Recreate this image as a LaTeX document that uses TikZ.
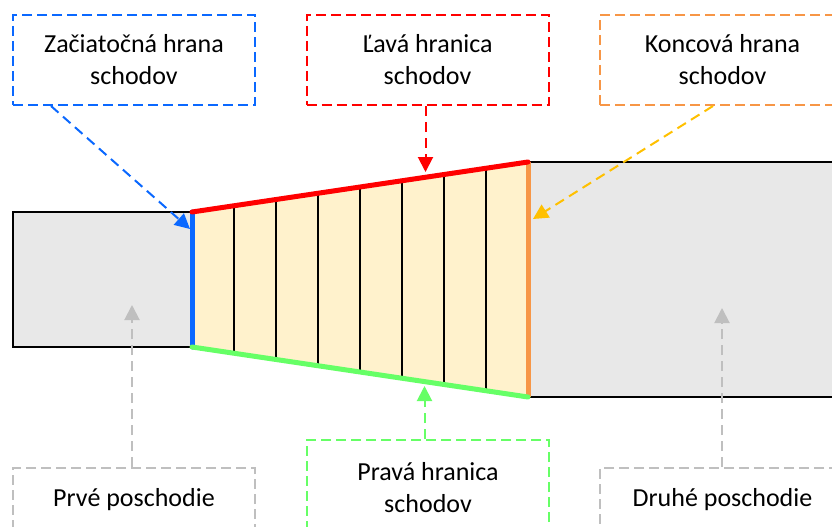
\documentclass[tikz,border=0pt]{standalone}
\usepackage{fontspec}
\setmainfont{Carlito}
\usetikzlibrary{arrows.meta}

\definecolor{edgeblue}{RGB}{10,104,255}
\definecolor{edgered}{RGB}{255,0,0}
\definecolor{edgeorange}{RGB}{247,150,70}
\definecolor{arrowgold}{RGB}{255,192,0}
\definecolor{edgegreen}{RGB}{102,255,102}
\definecolor{notegray}{RGB}{191,191,191}
\definecolor{floorfill}{RGB}{232,232,232}
\definecolor{stairfill}{RGB}{255,242,204}

\tikzset{
  floor/.style={fill=floorfill, draw=black, line width=2pt},
  tread/.style={draw=black, line width=2pt},
  stairedge/.style={line width=5pt, line cap=round},
  note/.style={draw, dashed, dash pattern=on 10pt off 5pt, line width=2pt,
    minimum width=242pt, align=center, inner sep=0pt,
    font=\fontsize{26}{32}\selectfont},
  pointer/.style={dashed, dash pattern=on 10pt off 6pt, line width=2pt,
    -{Triangle[length=15pt,width=15pt]}}
}

\begin{document}
\begin{tikzpicture}[x=1pt,y=-1pt]
  \clip (0,0) rectangle (832,527);

  % floors on both sides of the stairs
  \path[floor] (13,212) rectangle (192,347);
  \path[floor] (528,162) rectangle (860,397);

  % stair outline corners
  \coordinate (bl) at (192,347);
  \coordinate (tl) at (192,212);
  \coordinate (tr) at (528,162);
  \coordinate (br) at (528,397);

  % stair area and treads
  \fill[stairfill] (tl) -- (tr) -- (br) -- (bl) -- cycle;
  \foreach \k in {1,...,7} {
    \draw[tread] ({192+42*\k},{212-50*\k/8}) -- ({192+42*\k},{347+50*\k/8});
  }

  % coloured stair edges
  \draw[stairedge, edgeblue] (tl) -- (bl);
  \draw[stairedge, edgeorange, line cap=butt] (tr) -- (br);
  \draw[stairedge, edgered] (tl) -- (tr);
  \draw[stairedge, edgegreen] (bl) -- (br);

  % callout boxes
  \node[note, edgeblue, minimum height=90pt, text=black] (zs) at (134,60)
    {Začiatočná hrana\\schodov};
  \node[note, edgered, minimum height=90pt, text=black] (ls) at (427.5,60)
    {Ľavá hranica\\schodov};
  \node[note, edgeorange, minimum width=245pt, minimum height=90pt, text=black] (ks) at (722.5,60)
    {Koncová hrana\\schodov};
  \node[note, edgegreen, minimum height=95pt, text=black] (ps) at (428,487.5)
    {Pravá hranica\\schodov};
  \node[note, notegray, minimum height=64pt, text=black] (p1) at (134,500)
    {Prvé poschodie};
  \node[note, notegray, minimum width=245pt, minimum height=64pt, text=black] (p2) at (722.5,500)
    {Druhé poschodie};

  % arrow targets
  \coordinate (zsTip) at (190,229);
  \coordinate (lsTip) at (425.5,172);
  \coordinate (ksTip) at (533,219);
  \coordinate (psTip) at (424.5,386);
  \coordinate (p1Tip) at (132,305);
  \coordinate (p2Tip) at (722,308);

  % pointers
  \draw[pointer, edgeblue] ([xshift=39pt]zs.south west) -- (zsTip);
  \draw[pointer, edgered] ([xshift=-2pt]ls.south) -- (lsTip);
  \draw[pointer, arrowgold] ([xshift=-9.5pt]ks.south) -- (ksTip);
  \draw[pointer, edgegreen] ([xshift=-3.5pt]ps.north) -- (psTip);
  \draw[pointer, notegray] ([xshift=-2pt]p1.north) -- (p1Tip);
  \draw[pointer, notegray] ([xshift=-0.5pt]p2.north) -- (p2Tip);
\end{tikzpicture}
\end{document}
